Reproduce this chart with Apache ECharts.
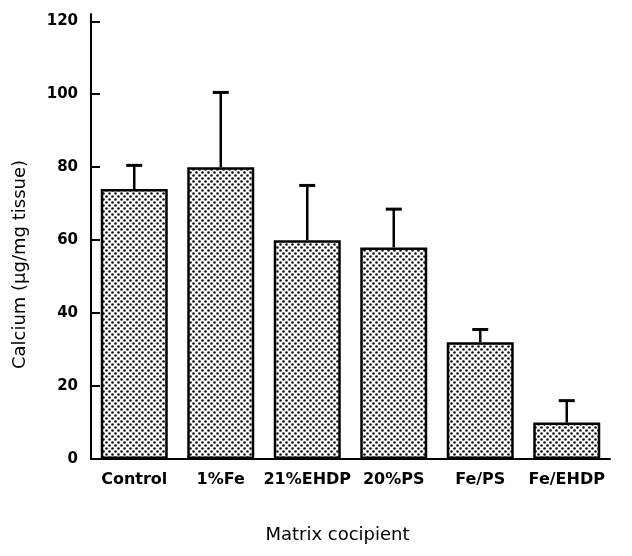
<!DOCTYPE html>
<html>
<head>
<meta charset="utf-8">
<script src="https://cdn.jsdelivr.net/npm/echarts@6/dist/echarts.min.js"></script>
<style>
  html, body { margin: 0; padding: 0; background: #fff; }
  #chart { width: 632px; height: 556px; }
</style>
</head>
<body>
<div id="chart"></div>
<script>
// values
const categories = ['Control', '1%Fe', '21%EHDP', '20%PS', 'Fe/PS', 'Fe/EHDP']
const means = [74, 80, 60, 58, 32, 10]
const errTops = [80.5, 100.5, 75, 68.5, 35.5, 16]
const yTicks = [0, 20, 40, 60, 80, 100, 120]

const font = 'DejaVu Sans'

// halftone dot pattern like the printed figure
function dotPattern() {
  const c = document.createElement('canvas')
  c.width = 6
  c.height = 6
  const ctx = c.getContext('2d')
  ctx.fillStyle = '#fff'
  ctx.fillRect(0, 0, 6, 6)
  ctx.fillStyle = '#111'
  ctx.beginPath(); ctx.arc(1.5, 1.5, 1.3, 0, Math.PI * 2); ctx.fill()
  ctx.beginPath(); ctx.arc(4.5, 4.5, 1.3, 0, Math.PI * 2); ctx.fill()
  return c
}

const chart = echarts.init(document.getElementById('chart'), null, { renderer: 'canvas' })

chart.setOption({
  animation: false,
  backgroundColor: '#fff',
  grid: { left: 91, right: 22, top: 14, bottom: 97 },
  xAxis: {
    type: 'category',
    data: categories,
    axisLine: { lineStyle: { color: '#000', width: 2 } },
    axisTick: { show: false },
    axisLabel: { interval: 0, color: '#000', fontFamily: font, fontWeight: 'bold', fontSize: 16, margin: 13 },
    name: 'Matrix cocipient',
    nameLocation: 'middle',
    nameGap: 67,
    nameTextStyle: { color: '#000', fontFamily: font, fontSize: 18, padding: [0, 26, 0, 0] },
  },
  yAxis: {
    type: 'value',
    min: 0,
    max: 122,
    splitLine: { show: false },
    axisLine: { show: true, lineStyle: { color: '#000', width: 2 } },
    axisTick: { show: true, inside: true, length: 9, customValues: yTicks, lineStyle: { color: '#000', width: 2 } },
    axisLabel: { color: '#000', fontFamily: font, fontWeight: 'bold', fontSize: 15, margin: 13, customValues: yTicks },
    name: 'Calcium (\u00b5g/mg tissue)',
    nameLocation: 'middle',
    nameGap: 62,
    nameTextStyle: { color: '#000', fontFamily: font, fontSize: 18, padding: [0, 56, 0, 0] },
  },
  series: [
    {
      type: 'bar',
      data: means,
      barWidth: 67,
      itemStyle: {
        color: { image: dotPattern(), repeat: 'repeat' },
        borderColor: '#000',
        borderWidth: 2.5,
      },
      z: 2,
    },
    {
      type: 'custom',
      data: means.map((m, i) => [i, m, errTops[i]]),
      z: 1,
      renderItem: (params, api) => {
        const lo = api.coord([api.value(0), api.value(1)])
        const hi = api.coord([api.value(0), api.value(2)])
        const half = 8
        return {
          type: 'group',
          children: [
            { type: 'line', shape: { x1: lo[0], y1: lo[1], x2: hi[0], y2: hi[1] }, style: { stroke: '#000', lineWidth: 2.5 } },
            { type: 'line', shape: { x1: hi[0] - half, y1: hi[1], x2: hi[0] + half, y2: hi[1] }, style: { stroke: '#000', lineWidth: 3 } },
          ],
        }
      },
    },
  ],
})
</script>
</body>
</html>
